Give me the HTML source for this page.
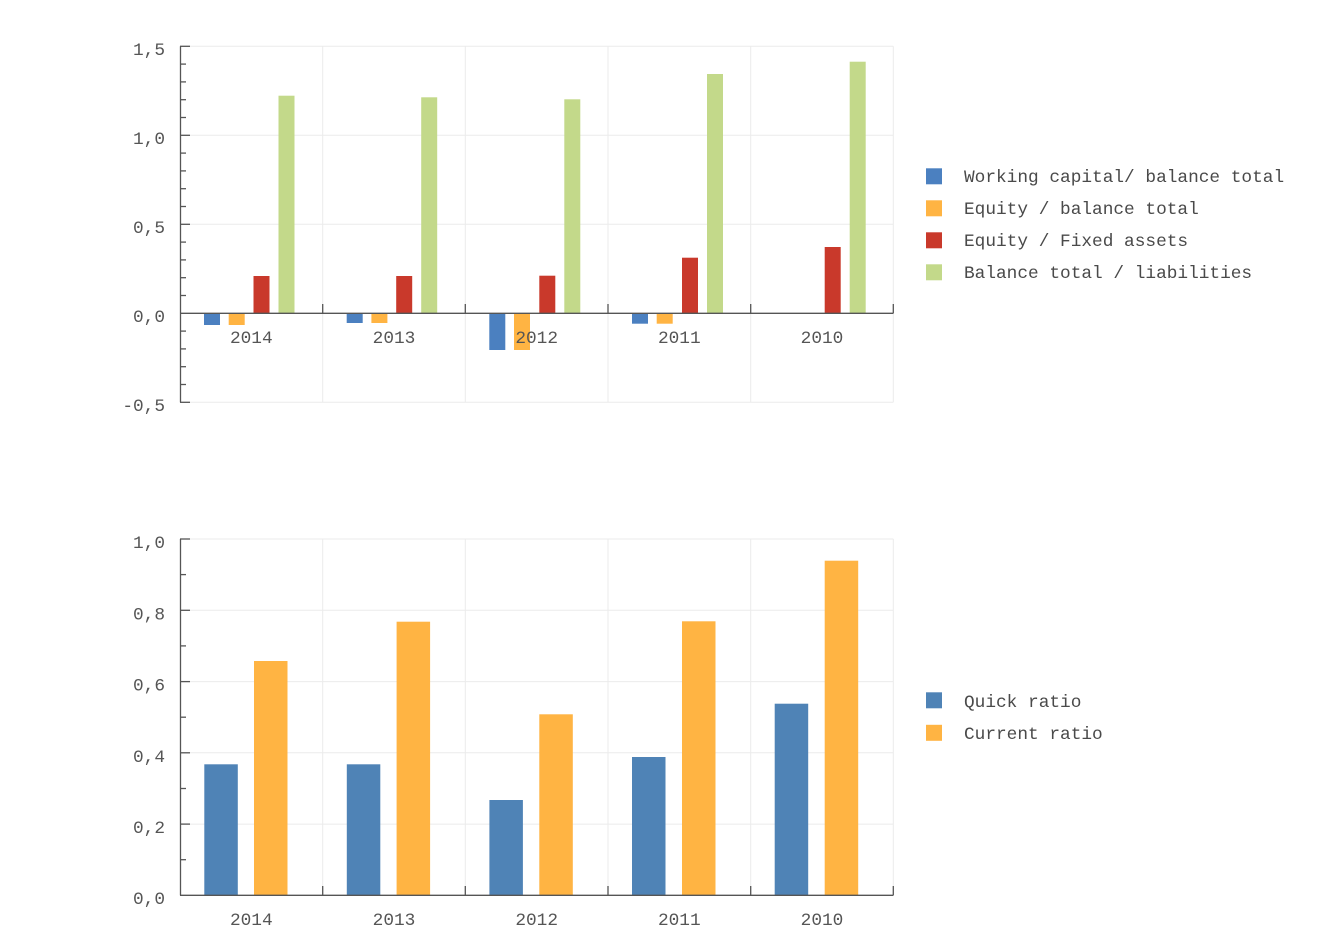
<!DOCTYPE html>
<html>
<head>
<meta charset="utf-8">
<style>
  html, body { margin: 0; padding: 0; background: #ffffff; }
  svg { display: block; }
  text { font-family: "Liberation Mono", "DejaVu Sans Mono", monospace; font-size: 17.8px; fill: #555555; }
  .leg { fill: #4a4a4a; }
</style>
</head>
<body>
<svg width="1340" height="940" viewBox="0 0 1340 940" xmlns="http://www.w3.org/2000/svg">
  <!-- ================= TOP CHART ================= -->
  <g stroke="#ebebeb" stroke-width="1" fill="none">
    <line x1="180" y1="46.3" x2="893.3" y2="46.3"/>
    <line x1="180" y1="135.3" x2="893.3" y2="135.3"/>
    <line x1="180" y1="224.3" x2="893.3" y2="224.3"/>
    <line x1="180" y1="402.3" x2="893.3" y2="402.3"/>
    <line x1="322.7" y1="46.3" x2="322.7" y2="402.3"/>
    <line x1="465.3" y1="46.3" x2="465.3" y2="402.3"/>
    <line x1="608" y1="46.3" x2="608" y2="402.3"/>
    <line x1="750.7" y1="46.3" x2="750.7" y2="402.3"/>
    <line x1="893.3" y1="46.3" x2="893.3" y2="402.3"/>
  </g>

  <!-- bars top -->
  <!-- 2014 -->
  <rect x="204" y="313.3" width="16" height="11.7" fill="#4b80c0"/>
  <rect x="228.7" y="313.3" width="16" height="11.7" fill="#ffb443"/>
  <rect x="253.5" y="276" width="16" height="37.3" fill="#c9392b"/>
  <rect x="278.5" y="95.7" width="16" height="217.6" fill="#c3d98a"/>
  <!-- 2013 -->
  <rect x="346.7" y="313.3" width="16" height="9.7" fill="#4b80c0"/>
  <rect x="371.4" y="313.3" width="16" height="9.7" fill="#ffb443"/>
  <rect x="396.2" y="276" width="16" height="37.3" fill="#c9392b"/>
  <rect x="421.2" y="97.3" width="16" height="216" fill="#c3d98a"/>
  <!-- 2012 -->
  <rect x="489.3" y="313.3" width="16" height="36.7" fill="#4b80c0"/>
  <rect x="514" y="313.3" width="16" height="36.7" fill="#ffb443"/>
  <rect x="539.3" y="275.7" width="16" height="37.6" fill="#c9392b"/>
  <rect x="564.3" y="99.3" width="16" height="214" fill="#c3d98a"/>
  <!-- 2011 -->
  <rect x="632" y="313.3" width="16" height="10.4" fill="#4b80c0"/>
  <rect x="656.7" y="313.3" width="16" height="10.4" fill="#ffb443"/>
  <rect x="682" y="257.7" width="16" height="55.6" fill="#c9392b"/>
  <rect x="707" y="74" width="16" height="239.3" fill="#c3d98a"/>
  <!-- 2010 -->
  <rect x="824.7" y="247" width="16" height="66.3" fill="#c9392b"/>
  <rect x="849.7" y="61.7" width="16" height="251.6" fill="#c3d98a"/>

  <!-- axes top -->
  <g stroke="#555555" stroke-width="1.3" fill="none">
    <line x1="180.5" y1="46.3" x2="180.5" y2="402.3"/>
    <line x1="180" y1="313.3" x2="893.3" y2="313.3"/>
    <!-- major y ticks -->
    <line x1="180" y1="46.3" x2="190" y2="46.3"/>
    <line x1="180" y1="135.3" x2="190" y2="135.3"/>
    <line x1="180" y1="224.3" x2="190" y2="224.3"/>
    <line x1="180" y1="402.3" x2="190" y2="402.3"/>
    <!-- minor y ticks every 0.1 (17.8px) -->
    <line x1="180" y1="64.1" x2="186" y2="64.1"/>
    <line x1="180" y1="81.9" x2="186" y2="81.9"/>
    <line x1="180" y1="99.7" x2="186" y2="99.7"/>
    <line x1="180" y1="117.5" x2="186" y2="117.5"/>
    <line x1="180" y1="153.1" x2="186" y2="153.1"/>
    <line x1="180" y1="170.9" x2="186" y2="170.9"/>
    <line x1="180" y1="188.7" x2="186" y2="188.7"/>
    <line x1="180" y1="206.5" x2="186" y2="206.5"/>
    <line x1="180" y1="242.1" x2="186" y2="242.1"/>
    <line x1="180" y1="259.9" x2="186" y2="259.9"/>
    <line x1="180" y1="277.7" x2="186" y2="277.7"/>
    <line x1="180" y1="295.5" x2="186" y2="295.5"/>
    <line x1="180" y1="331.1" x2="186" y2="331.1"/>
    <line x1="180" y1="348.9" x2="186" y2="348.9"/>
    <line x1="180" y1="366.7" x2="186" y2="366.7"/>
    <line x1="180" y1="384.5" x2="186" y2="384.5"/>
    <!-- category ticks -->
    <line x1="322.7" y1="304" x2="322.7" y2="313.3"/>
    <line x1="465.3" y1="304" x2="465.3" y2="313.3"/>
    <line x1="608" y1="304" x2="608" y2="313.3"/>
    <line x1="750.7" y1="304" x2="750.7" y2="313.3"/>
    <line x1="893.3" y1="304" x2="893.3" y2="313.3"/>
  </g>

  <!-- y labels top -->
  <g text-anchor="end">
    <text x="165" y="55">1,5</text>
    <text x="165" y="144">1,0</text>
    <text x="165" y="233">0,5</text>
    <text x="165" y="322">0,0</text>
    <text x="165" y="411">-0,5</text>
  </g>
  <!-- x labels top -->
  <g text-anchor="middle">
    <text x="251.3" y="343">2014</text>
    <text x="394" y="343">2013</text>
    <text x="536.7" y="343">2012</text>
    <text x="679.3" y="343">2011</text>
    <text x="822" y="343">2010</text>
  </g>

  <!-- legend top -->
  <rect x="926" y="168.3" width="16" height="16" fill="#4b80c0"/>
  <rect x="926" y="200.3" width="16" height="16" fill="#ffb443"/>
  <rect x="926" y="232.3" width="16" height="16" fill="#c9392b"/>
  <rect x="926" y="264.3" width="16" height="16" fill="#c3d98a"/>
  <text class="leg" x="964" y="182">Working capital/ balance total</text>
  <text class="leg" x="964" y="214">Equity / balance total</text>
  <text class="leg" x="964" y="246">Equity / Fixed assets</text>
  <text class="leg" x="964" y="278">Balance total / liabilities</text>

  <!-- ================= BOTTOM CHART ================= -->
  <g stroke="#ebebeb" stroke-width="1" fill="none">
    <line x1="180" y1="539" x2="893.3" y2="539"/>
    <line x1="180" y1="610.3" x2="893.3" y2="610.3"/>
    <line x1="180" y1="681.6" x2="893.3" y2="681.6"/>
    <line x1="180" y1="752.8" x2="893.3" y2="752.8"/>
    <line x1="180" y1="824.1" x2="893.3" y2="824.1"/>
    <line x1="322.7" y1="539" x2="322.7" y2="895.3"/>
    <line x1="465.3" y1="539" x2="465.3" y2="895.3"/>
    <line x1="608" y1="539" x2="608" y2="895.3"/>
    <line x1="750.7" y1="539" x2="750.7" y2="895.3"/>
    <line x1="893.3" y1="539" x2="893.3" y2="895.3"/>
  </g>

  <!-- bars bottom -->
  <rect x="204.3" y="764.3" width="33.5" height="131" fill="#4f83b6"/>
  <rect x="254" y="661" width="33.5" height="234.3" fill="#ffb443"/>
  <rect x="346.8" y="764.3" width="33.5" height="131" fill="#4f83b6"/>
  <rect x="396.6" y="621.7" width="33.5" height="273.6" fill="#ffb443"/>
  <rect x="489.4" y="800" width="33.5" height="95.3" fill="#4f83b6"/>
  <rect x="539.3" y="714.3" width="33.5" height="181" fill="#ffb443"/>
  <rect x="632" y="757" width="33.5" height="138.3" fill="#4f83b6"/>
  <rect x="682" y="621.3" width="33.5" height="274" fill="#ffb443"/>
  <rect x="774.7" y="703.7" width="33.5" height="191.6" fill="#4f83b6"/>
  <rect x="824.7" y="560.7" width="33.5" height="334.6" fill="#ffb443"/>

  <!-- axes bottom -->
  <g stroke="#555555" stroke-width="1.3" fill="none">
    <line x1="180.5" y1="539" x2="180.5" y2="895.3"/>
    <line x1="180" y1="895.3" x2="893.3" y2="895.3"/>
    <line x1="180" y1="539" x2="190" y2="539"/>
    <line x1="180" y1="610.3" x2="190" y2="610.3"/>
    <line x1="180" y1="681.6" x2="190" y2="681.6"/>
    <line x1="180" y1="752.8" x2="190" y2="752.8"/>
    <line x1="180" y1="824.1" x2="190" y2="824.1"/>
    <line x1="180" y1="574.6" x2="186" y2="574.6"/>
    <line x1="180" y1="645.9" x2="186" y2="645.9"/>
    <line x1="180" y1="717.2" x2="186" y2="717.2"/>
    <line x1="180" y1="788.5" x2="186" y2="788.5"/>
    <line x1="180" y1="859.7" x2="186" y2="859.7"/>
    <line x1="322.7" y1="886" x2="322.7" y2="895.3"/>
    <line x1="465.3" y1="886" x2="465.3" y2="895.3"/>
    <line x1="608" y1="886" x2="608" y2="895.3"/>
    <line x1="750.7" y1="886" x2="750.7" y2="895.3"/>
    <line x1="893.3" y1="886" x2="893.3" y2="895.3"/>
  </g>

  <g text-anchor="end">
    <text x="165" y="548">1,0</text>
    <text x="165" y="619.3">0,8</text>
    <text x="165" y="690.6">0,6</text>
    <text x="165" y="761.8">0,4</text>
    <text x="165" y="833.1">0,2</text>
    <text x="165" y="904">0,0</text>
  </g>
  <g text-anchor="middle">
    <text x="251.3" y="925">2014</text>
    <text x="394" y="925">2013</text>
    <text x="536.7" y="925">2012</text>
    <text x="679.3" y="925">2011</text>
    <text x="822" y="925">2010</text>
  </g>

  <!-- legend bottom -->
  <rect x="926" y="692.3" width="16" height="16" fill="#4f83b6"/>
  <rect x="926" y="724.8" width="16" height="16" fill="#ffb443"/>
  <text class="leg" x="964" y="707">Quick ratio</text>
  <text class="leg" x="964" y="739">Current ratio</text>
</svg>
</body>
</html>
